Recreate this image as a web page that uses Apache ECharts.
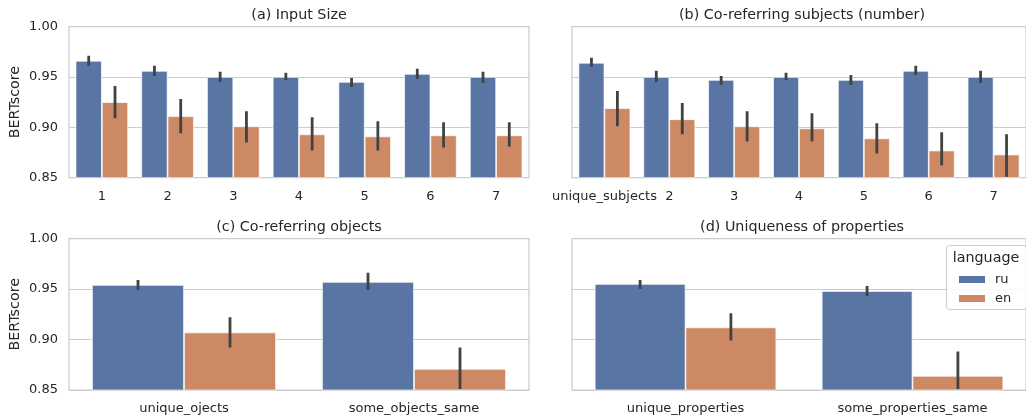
<!DOCTYPE html>
<html>
<head>
<meta charset="utf-8">
<script src="https://cdn.jsdelivr.net/npm/echarts@6/dist/echarts.min.js"></script>
<style>html,body{margin:0;padding:0;background:#fff}#c{width:1026px;height:418px}</style>
</head>
<body>
<div id="c"></div>
<script>
// ---- data ----
const seriesNames = ['ru', 'en'];
const yTicks = [0.85, 0.90, 0.95, 1.00];
const panelTitles = ['(a) Input Size', '(b) Co-referring subjects (number)', '(c) Co-referring objects', '(d) Uniqueness of properties'];

const inputSizeCats = ['1', '2', '3', '4', '5', '6', '7'];
const inputSizeRu = [0.966, 0.956, 0.950, 0.950, 0.945, 0.953, 0.950];
const inputSizeRuLow = [0.961, 0.951, 0.945, 0.947, 0.940, 0.948, 0.944];
const inputSizeRuHigh = [0.971, 0.961, 0.955, 0.954, 0.949, 0.958, 0.955];
const inputSizeEn = [0.925, 0.911, 0.901, 0.893, 0.891, 0.892, 0.892];
const inputSizeEnLow = [0.909, 0.894, 0.885, 0.877, 0.877, 0.880, 0.881];
const inputSizeEnHigh = [0.941, 0.928, 0.916, 0.910, 0.906, 0.905, 0.905];

const subjectsCats = ['unique_subjects', '2', '3', '4', '5', '6', '7'];
const subjectsRu = [0.964, 0.950, 0.947, 0.950, 0.947, 0.956, 0.950];
const subjectsRuLow = [0.960, 0.945, 0.942, 0.947, 0.942, 0.952, 0.944];
const subjectsRuHigh = [0.969, 0.956, 0.951, 0.954, 0.952, 0.961, 0.956];
const subjectsEn = [0.919, 0.908, 0.901, 0.899, 0.889, 0.877, 0.873];
const subjectsEnLow = [0.901, 0.893, 0.886, 0.886, 0.874, 0.862, 0.851];
const subjectsEnHigh = [0.936, 0.924, 0.916, 0.914, 0.904, 0.895, 0.893];

const objectsCats = ['unique_ojects', 'some_objects_same'];
const objectsRu = [0.954, 0.957];
const objectsRuLow = [0.949, 0.949];
const objectsRuHigh = [0.959, 0.966];
const objectsEn = [0.907, 0.871];
const objectsEnLow = [0.892, 0.851];
const objectsEnHigh = [0.922, 0.892];

const propertiesCats = ['unique_properties', 'some_properties_same'];
const propertiesRu = [0.955, 0.948];
const propertiesRuLow = [0.950, 0.943];
const propertiesRuHigh = [0.959, 0.953];
const propertiesEn = [0.912, 0.864];
const propertiesEnLow = [0.899, 0.851];
const propertiesEnHigh = [0.926, 0.888];

// ---- chart ----
const FONT = 'DejaVu Sans';
const TXT = '#262626';
const GRIDC = '#cccccc';
const COLORS = ['#5975a4', '#cc8963'];

const panels = [
  {cats: inputSizeCats, ru: inputSizeRu, ruL: inputSizeRuLow, ruH: inputSizeRuHigh, en: inputSizeEn, enL: inputSizeEnLow, enH: inputSizeEnHigh},
  {cats: subjectsCats, ru: subjectsRu, ruL: subjectsRuLow, ruH: subjectsRuHigh, en: subjectsEn, enL: subjectsEnLow, enH: subjectsEnHigh},
  {cats: objectsCats, ru: objectsRu, ruL: objectsRuLow, ruH: objectsRuHigh, en: objectsEn, enL: objectsEnLow, enH: objectsEnHigh},
  {cats: propertiesCats, ru: propertiesRu, ruL: propertiesRuLow, ruH: propertiesRuHigh, en: propertiesEn, enL: propertiesEnLow, enH: propertiesEnHigh}
];

const gridPos = [
  {left: 69, top: 26.5, width: 460, height: 151.2},
  {left: 572, top: 26.5, width: 460, height: 151.2},
  {left: 69, top: 238.5, width: 460, height: 151.5},
  {left: 572, top: 238.5, width: 460, height: 151.5}
];

function errRender(sign) {
  return function (params, api) {
    const x = api.value(0);
    const lo = api.coord([x, api.value(1)]);
    const hi = api.coord([x, api.value(2)]);
    const bw = api.size([1, 0])[0];
    const dx = sign * bw * 0.2;
    return {
      type: 'line',
      shape: {x1: lo[0] + dx, y1: lo[1], x2: hi[0] + dx, y2: hi[1]},
      style: {stroke: '#424242', lineWidth: 2.8, lineCap: 'butt'}
    };
  };
}

const grids = [], xAxes = [], yAxes = [], series = [], graphics = [];
panels.forEach((p, i) => {
  const g = gridPos[i];
  grids.push(Object.assign({show: true, borderColor: GRIDC, borderWidth: 1.25, backgroundColor: 'transparent', containLabel: false}, g));
  xAxes.push({
    type: 'category', gridIndex: i, data: p.cats,
    axisLine: {show: false}, axisTick: {show: false}, splitLine: {show: false},
    axisLabel: {interval: 0, margin: 12, fontFamily: FONT, fontSize: 13, color: TXT}
  });
  const left = (i % 2 === 0);
  yAxes.push({
    type: 'value', gridIndex: i, min: yTicks[0], max: yTicks[yTicks.length - 1], interval: 0.05,
    axisLine: {show: false}, axisTick: {show: false},
    splitLine: {show: true, lineStyle: {color: GRIDC, width: 1}},
    axisLabel: {show: left, margin: 11, fontFamily: FONT, fontSize: 13, color: TXT, formatter: v => v.toFixed(2)},
    name: left ? 'BERTscore' : '', nameLocation: 'middle', nameGap: 47,
    nameTextStyle: {fontFamily: FONT, fontSize: 14.3, color: TXT}
  });
  const vals = [p.ru, p.en];
  const lows = [p.ruL, p.enL];
  const highs = [p.ruH, p.enH];
  seriesNames.forEach((nm, k) => {
    series.push({
      type: 'bar', name: nm, xAxisIndex: i, yAxisIndex: i, data: vals[k],
      barCategoryGap: '20%', barGap: '0%',
      itemStyle: {color: COLORS[k], borderColor: 'rgba(255,255,255,0.85)', borderWidth: 0.8},
      emphasis: {disabled: true}, z: 2
    });
  });
  seriesNames.forEach((nm, k) => {
    series.push({
      type: 'custom', name: nm + '_err', xAxisIndex: i, yAxisIndex: i,
      renderItem: errRender(k === 0 ? -1 : 1),
      data: p.cats.map((c, j) => [j, lows[k][j], highs[k][j]]),
      encode: {x: 0, y: [1, 2]}, z: 5, silent: true, clip: true
    });
  });
  graphics.push({
    type: 'text', x: g.left + g.width / 2, y: g.top - 11.5,
    style: {text: panelTitles[i], font: '14.3px "' + FONT + '"', fill: TXT, textAlign: 'center', textVerticalAlign: 'middle'}
  });
});

// legend box
graphics.push({
  type: 'rect', shape: {x: 946.5, y: 245.5, width: 80, height: 64, r: 3}, z: 3,
  style: {fill: 'rgba(255,255,255,0.85)', stroke: GRIDC, lineWidth: 1}
});
graphics.push({
  type: 'text', x: 986, y: 258, z: 4,
  style: {text: 'language', font: '14.3px "' + FONT + '"', fill: TXT, textAlign: 'center', textVerticalAlign: 'middle'}
});

const chart = echarts.init(document.getElementById('c'), null, {renderer: 'canvas'});
chart.setOption({
  animation: false,
  backgroundColor: '#ffffff',
  grid: grids, xAxis: xAxes, yAxis: yAxes, series: series,
  graphic: graphics,
  legend: {
    data: seriesNames.map((n, k) => ({name: n, icon: 'rect', itemStyle: {color: COLORS[k], borderWidth: 0}})),
    orient: 'vertical', left: 959, top: 273, itemWidth: 26, itemHeight: 7, itemGap: 6, padding: 0,
    textStyle: {fontFamily: FONT, fontSize: 13, color: TXT, padding: [0, 0, 0, 5]}, z: 6, selectedMode: false
  }
});
</script>
</body>
</html>
